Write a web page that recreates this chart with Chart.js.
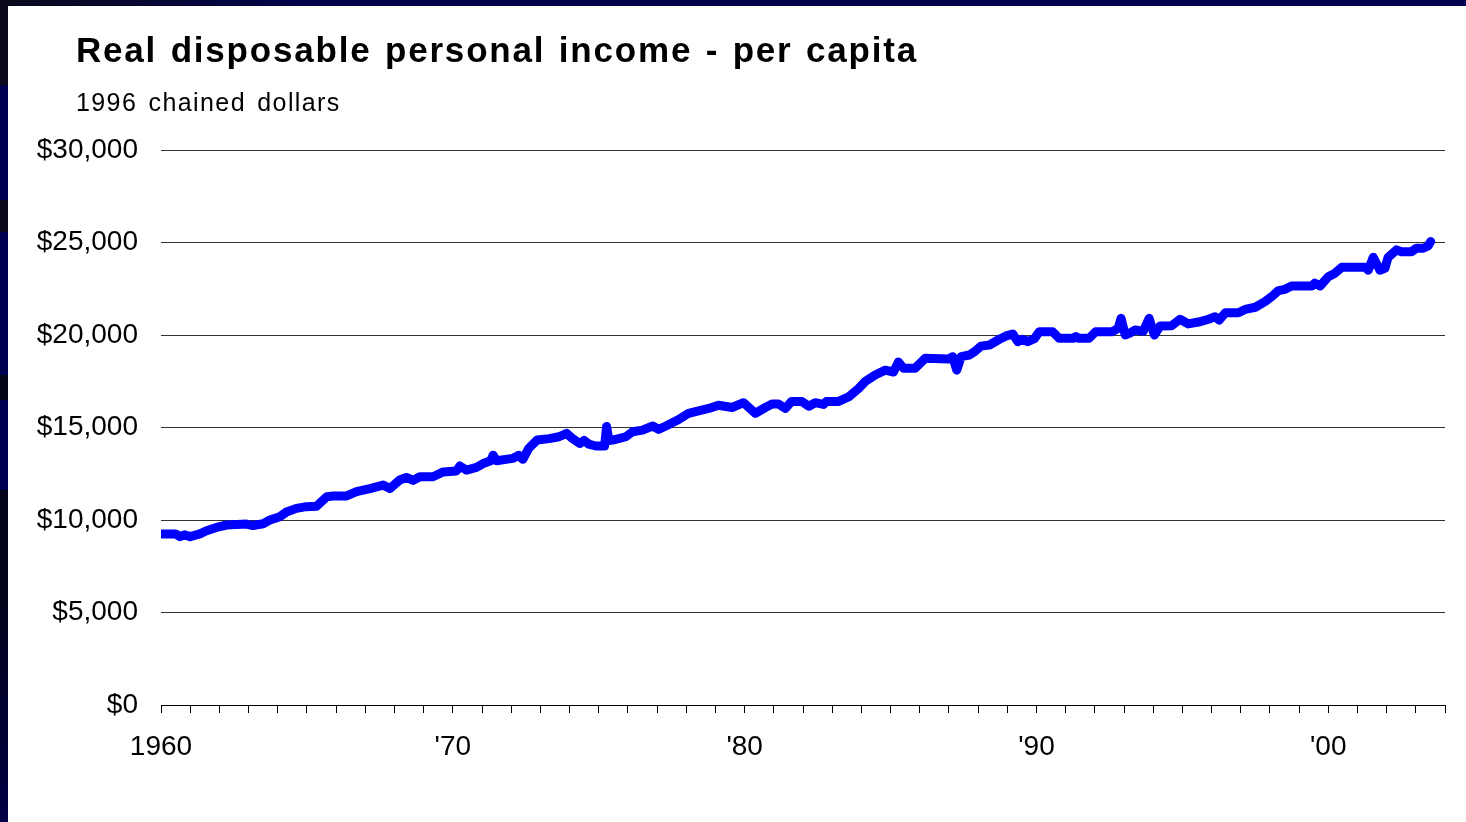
<!DOCTYPE html>
<html>
<head>
<meta charset="utf-8">
<script src="https://cdn.jsdelivr.net/npm/chart.js@4/dist/chart.umd.min.js"></script>
<style>
html,body{margin:0;padding:0;width:1466px;height:822px;overflow:hidden;background:#000050;}
#topband{position:absolute;left:0;top:0;width:1466px;height:6px;background:linear-gradient(to right,#0a0a1c 0px,#02024a 300px,#00004e 1466px);}
#leftband{position:absolute;left:0;top:0;width:8px;height:822px;
 background:linear-gradient(to bottom,#0a0a1c 0px,#0a0a1c 85px,#000050 85px,#000050 200px,#0a0a1c 200px,#0a0a1c 232px,#000050 232px,#000050 375px,#05051a 375px,#05051a 400px,#000050 400px,#000050 490px,#05051a 490px,#04041c 600px,#000044 822px);}
#panel{position:absolute;left:8px;top:6px;width:1458px;height:816px;background:#ffffff;}
#title{position:absolute;left:76px;top:32px;font:bold 35px "Liberation Sans",Arial,sans-serif;line-height:35px;letter-spacing:1.8px;word-spacing:2px;color:#000;white-space:nowrap;}
#subtitle{position:absolute;left:76px;top:90px;font:25px "Liberation Sans",Arial,sans-serif;line-height:25px;letter-spacing:1.4px;word-spacing:3px;color:#000;white-space:nowrap;}
#chart{position:absolute;left:0;top:0;}
</style>
</head>
<body>
<div id="topband"></div>
<div id="leftband"></div>
<div id="panel"></div>
<canvas id="chart" width="1466" height="822"></canvas>
<div id="title">Real disposable personal income - per capita</div>
<div id="subtitle">1996 chained dollars</div>
<script>
// Decimal year of each observation
const years = [
 1960.0,1960.5,1960.65,1960.8,1961.0,1961.33,1961.56,1961.9,1962.25,1962.93,
 1963.15,1963.5,1963.73,1964.07,1964.3,1964.64,1964.98,1965.33,1965.68,1965.9,
 1966.36,1966.7,1967.16,1967.61,1967.84,1968.18,1968.41,1968.64,1968.87,1969.32,
 1969.67,1970.12,1970.24,1970.47,1970.81,1971.04,1971.3,1971.38,1971.5,1972.05,
 1972.26,1972.4,1972.6,1972.89,1973.3,1973.64,1973.9,1974.1,1974.35,1974.5,
 1974.66,1974.9,1975.2,1975.27,1975.35,1975.48,1975.93,1976.16,1976.5,1976.85,
 1977.05,1977.3,1977.74,1978.08,1978.42,1978.77,1979.1,1979.57,1979.96,1980.37,
 1980.71,1980.94,1981.16,1981.4,1981.6,1981.96,1982.2,1982.42,1982.7,1982.8,
 1983.2,1983.56,1983.9,1984.12,1984.47,1984.82,1985.1,1985.27,1985.45,1985.84,
 1986.19,1987.0,1987.13,1987.27,1987.42,1987.7,1987.88,1988.1,1988.39,1988.73,
 1988.96,1989.19,1989.36,1989.53,1989.7,1989.93,1990.1,1990.55,1990.78,1991.25,
 1991.35,1991.45,1991.8,1992.03,1992.6,1992.8,1992.9,1993.04,1993.2,1993.38,
 1993.66,1993.86,1994.04,1994.24,1994.63,1994.92,1995.2,1995.55,1995.9,1996.12,
 1996.26,1996.47,1996.92,1997.15,1997.5,1997.83,1998.06,1998.29,1998.52,1998.74,
 1999.43,1999.54,1999.72,2000.0,2000.23,2000.46,2001.26,2001.37,2001.54,2001.77,
 2001.94,2002.05,2002.34,2002.51,2002.85,2003.02,2003.25,2003.42,2003.51
];
// Real disposable personal income per capita, 1996 chained dollars
const income = [
 9250,9250,9100,9200,9100,9250,9420,9600,9730,9780,
 9700,9800,10000,10180,10430,10630,10720,10740,11260,11300,
 11300,11530,11700,11890,11700,12160,12300,12140,12340,12340,
 12600,12650,12920,12700,12840,13050,13200,13500,13200,13330,
 13500,13280,13870,14320,14400,14500,14680,14400,14140,14300,
 14100,14000,14000,15060,14300,14320,14500,14770,14860,15080,
 14900,15080,15430,15770,15900,16030,16200,16080,16340,15770,
 16080,16270,16270,16030,16400,16400,16150,16340,16250,16400,
 16400,16650,17100,17470,17840,18100,18000,18540,18200,18200,
 18740,18700,18830,18100,18830,18920,19100,19400,19460,19770,
 19950,20050,19640,19770,19640,19800,20180,20180,19820,19820,
 19920,19820,19820,20180,20180,20360,20900,20000,20100,20270,
 20200,20900,20000,20490,20500,20850,20600,20700,20850,20990,
 20800,21200,21200,21380,21500,21800,22070,22400,22470,22650,
 22650,22800,22650,23150,23340,23660,23660,23500,24200,23500,
 23600,24200,24600,24500,24500,24690,24690,24810,25050
];
const tickYears = [1960, 1970, 1980, 1990, 2000];
const tickLabels = ['1960', "'70", "'80", "'90", "'00"];
const yTicks = [0, 5000, 10000, 15000, 20000, 25000, 30000];

const points = years.map((y, i) => ({ x: y, y: income[i] }));

new Chart(document.getElementById('chart'), {
  type: 'line',
  data: {
    datasets: [{
      data: points,
      borderColor: '#0000ff',
      borderWidth: 9,
      borderCapStyle: 'round',
      borderJoinStyle: 'round',
      pointRadius: 0,
      tension: 0,
      fill: false
    }]
  },
  options: {
    responsive: false,
    animation: false,
    devicePixelRatio: 1,
    layout: { padding: { top: 150, right: 21, left: 0, bottom: 0 } },
    plugins: { legend: { display: false }, tooltip: { enabled: false }, title: { display: false } },
    scales: {
      x: {
        type: 'linear',
        min: 1960,
        max: 2004,
        afterFit: (s) => { s.height = 117; },
        grid: { drawOnChartArea: false, drawTicks: true, tickLength: 8, color: '#000', lineWidth: 1 },
        border: { display: true, color: '#000', width: 1 },
        ticks: {
          stepSize: 1,
          autoSkip: false,
          maxTicksLimit: 100,
          maxRotation: 0,
          padding: 17,
          color: '#000',
          font: { family: '"Liberation Sans", Arial, sans-serif', size: 28 },
          callback: (v) => { const i = tickYears.indexOf(Math.round(v)); return i >= 0 && Math.abs(v - Math.round(v)) < 1e-6 ? tickLabels[i] : ''; }
        }
      },
      y: {
        min: 0,
        max: 30000,
        afterFit: (s) => { s.width = 161; },
        afterBuildTicks: (s) => { s.ticks = yTicks.map(v => ({ value: v })); },
        grid: { drawTicks: false, color: '#333', lineWidth: 1 },
        border: { display: false },
        ticks: {
          padding: 23,
          color: '#000',
          font: { family: '"Liberation Sans", Arial, sans-serif', size: 28 },
          callback: (v) => '$' + v.toLocaleString('en-US')
        }
      }
    }
  }
});
</script>
</body>
</html>
